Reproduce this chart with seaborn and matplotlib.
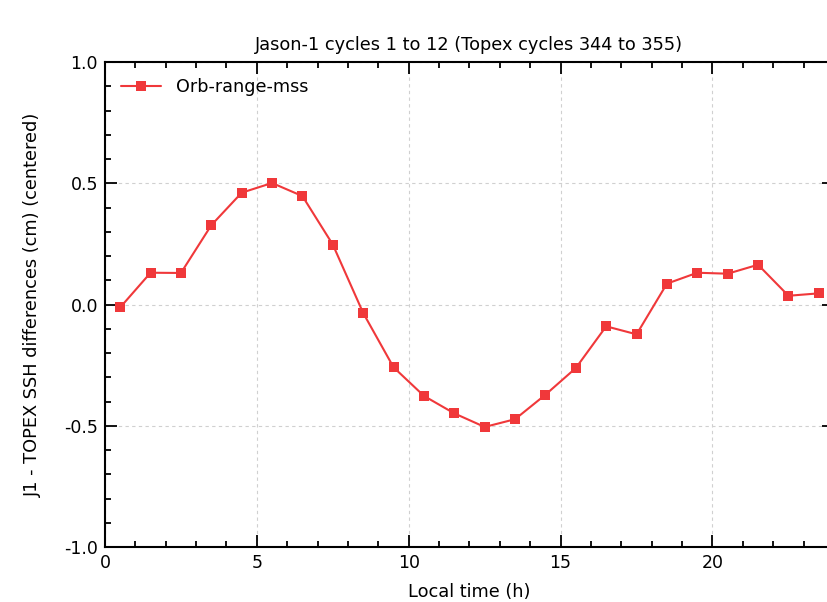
import seaborn as sns
import matplotlib.pyplot as plt
import pandas as pd
from matplotlib.ticker import MultipleLocator

# data
local_time = [0.5, 1.5, 2.5, 3.5, 4.5, 5.5, 6.5, 7.5, 8.5, 9.5, 10.5, 11.5,
              12.5, 13.5, 14.5, 15.5, 16.5, 17.5, 18.5, 19.5, 20.5, 21.5, 22.5, 23.5]
ssh_diff = [-0.012, 0.131, 0.130, 0.327, 0.461, 0.501, 0.447, 0.247, -0.035, -0.259,
            -0.377, -0.449, -0.505, -0.473, -0.372, -0.262, -0.090, -0.123,
            0.086, 0.131, 0.127, 0.164, 0.036, 0.046]
series_name = 'Orb-range-mss'

df = pd.DataFrame({'Local time (h)': local_time, 'ssh': ssh_diff, 'series': series_name})

sns.set_style('ticks')
plt.rcParams['font.family'] = ['DejaVu Sans']
plt.rcParams['axes.unicode_minus'] = False
plt.rcParams['text.color'] = 'black'
plt.rcParams['axes.labelcolor'] = 'black'
plt.rcParams['xtick.color'] = 'black'
plt.rcParams['ytick.color'] = 'black'

fig = plt.figure(figsize=(8.28, 6.02), dpi=100)
# axes run slightly past the right edge like the cropped original
ax = fig.add_axes([105 / 828, 55 / 602, 729 / 828, 485 / 602])

sns.lineplot(data=df, x='Local time (h)', y='ssh', hue='series', palette=['#f0383a'],
             marker='s', markersize=7, markeredgewidth=0, linewidth=1.5, ax=ax)

ax.set_xlim(0, 24)
ax.set_ylim(-1.0, 1.0)
ax.xaxis.set_major_locator(MultipleLocator(5))
ax.xaxis.set_minor_locator(MultipleLocator(1))
ax.yaxis.set_major_locator(MultipleLocator(0.5))
ax.yaxis.set_minor_locator(MultipleLocator(0.1))
ax.yaxis.set_major_formatter(lambda v, p: f'{v:.1f}')
ax.tick_params(which='both', direction='in', top=True, right=True, width=1.3, labelsize=12.5)
ax.tick_params(which='major', length=8.5, pad=5)
ax.tick_params(which='minor', length=4.5)
ax.grid(True, which='major', color='#d0d0d0', linestyle=(0, (3, 3)), linewidth=0.8)
for s in ax.spines.values():
    s.set_linewidth(1.5)
    s.set_color('black')

ax.set_xlabel('Local time (h)', fontsize=12.8, labelpad=8)
ax.set_ylabel('J1 - TOPEX SSH differences (cm) (centered)', fontsize=12.8, labelpad=16)
ax.set_title('Jason-1 cycles 1 to 12 (Topex cycles 344 to 355)', fontsize=12.8, pad=9)

ax.legend(loc='upper left', frameon=False, fontsize=12.7, handlelength=2.3,
          borderaxespad=0.5)

fig.savefig('out.png', dpi=100)
